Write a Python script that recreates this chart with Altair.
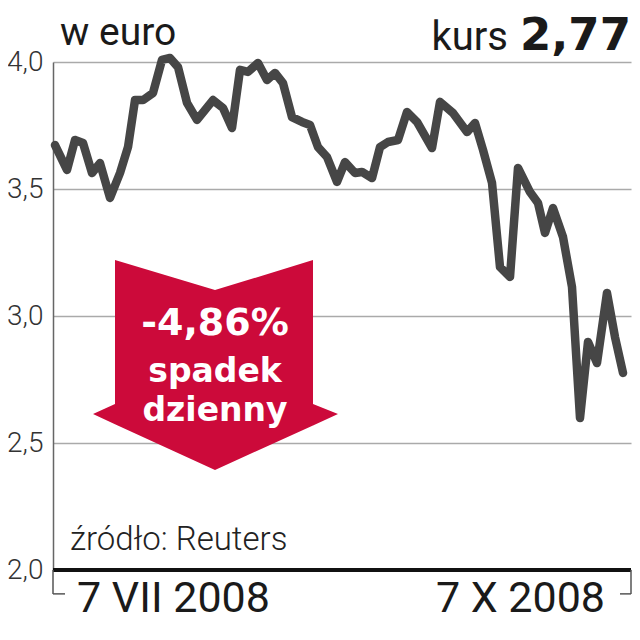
import altair as alt
import pandas as pd

# ---- data ----
x_pos = [2, 14, 22, 30, 39, 47, 57, 67, 75, 82, 90, 100, 109, 117, 125, 134, 144, 160,
         170, 179, 187, 195, 205, 214, 222, 230, 239, 249, 257, 265, 274, 284, 292, 302,
         309, 319, 327, 335, 345, 354, 364, 379, 387, 400, 414, 422, 430, 439, 447, 457,
         465, 477, 485, 492, 500, 510, 519, 527, 535, 544, 554, 562, 570]
kurs = [3.673, 3.575, 3.693, 3.681, 3.563, 3.602, 3.465, 3.563, 3.665, 3.850, 3.850, 3.878,
        4.008, 4.016, 3.980, 3.839, 3.772, 3.850, 3.819, 3.740, 3.969, 3.961, 3.996, 3.929,
        3.957, 3.917, 3.783, 3.764, 3.752, 3.665, 3.626, 3.528, 3.606, 3.563, 3.567, 3.543,
        3.665, 3.685, 3.693, 3.803, 3.764, 3.661, 3.843, 3.799, 3.724, 3.760, 3.654, 3.524,
        3.193, 3.154, 3.583, 3.488, 3.445, 3.327, 3.425, 3.311, 3.114, 2.598, 2.898, 2.815,
        3.091, 2.917, 2.776]

y_ticks = [2.0, 2.5, 3.0, 3.5, 4.0]
x_domain = [0, 578]
y_domain = [2.0, 4.0]

# red arrow outline (x position, upper edge, lower edge)
arrow_x = [40, 62, 62.01, 162, 259.99, 260, 285]
arrow_top = [2.614, 2.654, 3.220, 3.102, 3.220, 2.654, 2.614]
arrow_bottom = [2.614, 2.574, 2.574, 2.394, 2.569, 2.569, 2.614]

arrow_text = ["-4,86%", "spadek", "dzienny"]
arrow_text_size = [38, 33, 33]
arrow_text_y = [2.925, 2.742, 2.585]

# bracket under the axis
bracket_x = [0, 0, 578, 567]
bracket_x2 = [0, 12, 578, 578]
bracket_y = [2.0, 1.906, 2.0, 1.906]
bracket_y2 = [1.906, 1.906, 1.906, 1.906]

LINE = "#464646"
RED = "#cc0a3a"

xs = alt.Scale(domain=x_domain, nice=False, zero=False)
ys = alt.Scale(domain=y_domain, nice=False, zero=False)

df = pd.DataFrame({"x": x_pos, "v": kurs})
line = alt.Chart(df).mark_line(
    color=LINE, strokeWidth=8.5, strokeJoin="round", strokeCap="round", clip=False
).encode(
    x=alt.X("x:Q", scale=xs, axis=None),
    y=alt.Y("v:Q", scale=ys, axis=alt.Axis(
        values=y_ticks, labelExpr="replace(format(datum.value, '.1f'), '.', ',')",
        grid=True, gridColor="#aaaaaa", gridWidth=1.5,
        domainColor="#666666", domainWidth=1.5, ticks=False, labelPadding=10,
        labelFont="Roboto", labelFontWeight=300, labelFontSize=28, labelColor="#333333",
        title=None, labelOverlap=False)),
)

base_df = pd.DataFrame({"x": [x_domain[0]], "x2": [x_domain[1]], "y": [y_domain[0]]})
baseline = alt.Chart(base_df).mark_rule(color="#111111", strokeWidth=4).encode(
    x=alt.X("x:Q", scale=xs), x2="x2:Q", y=alt.Y("y:Q", scale=ys)
)

br_df = pd.DataFrame({"x": bracket_x, "x2": bracket_x2, "y": bracket_y, "y2": bracket_y2})
brackets = alt.Chart(br_df).mark_rule(color="#555555", strokeWidth=1.5).encode(
    x=alt.X("x:Q", scale=xs), x2="x2:Q", y=alt.Y("y:Q", scale=ys), y2="y2:Q"
)

ar_df = pd.DataFrame({"x": arrow_x, "top": arrow_top, "bottom": arrow_bottom})
arrow = alt.Chart(ar_df).mark_area(color=RED, opacity=1).encode(
    x=alt.X("x:Q", scale=xs), y=alt.Y("top:Q", scale=ys), y2="bottom:Q"
)

at_df = pd.DataFrame({"t": arrow_text, "s": arrow_text_size, "y": arrow_text_y,
                      "x": [162] * 3})
arrow_txt = alt.Chart(at_df).mark_text(
    font="DejaVu Sans", fontWeight="bold", color="white", align="center",
    baseline="alphabetic"
).encode(
    x=alt.X("x:Q", scale=xs), y=alt.Y("y:Q", scale=ys), text="t:N",
    size=alt.Size("s:Q", scale=None, legend=None)
)

def label(text, x, y, size, weight="normal", align="left", font="Roboto", color="#1a1a1a"):
    return alt.Chart(pd.DataFrame({"a": [0]})).mark_text(
        text=text, font=font, fontSize=size, fontWeight=weight, align=align,
        baseline="alphabetic", color=color
    ).encode(x=alt.value(x), y=alt.value(y))

t_unit = label("w euro", 7, -17, 39)
t_kurs = label("kurs", 455, -12, 40, align="right")
t_val = label("2,77", 578, -12, 45, weight="bold", align="right", font="DejaVu Sans")
t_src = label("źródło: Reuters", 17, 488, 33, weight=300, color="#222222")
t_d1 = label("7 VII 2008", 24, 550, 43)
t_d2 = label("7 X 2008", 552, 550, 43, align="right")

chart = alt.layer(
    line, arrow, arrow_txt, baseline, brackets,
    t_unit, t_kurs, t_val, t_src, t_d1, t_d2
).properties(
    width=578, height=508,
    padding={"left": 45, "top": 54, "right": 1, "bottom": 54},
    autosize=alt.AutoSizeParams(type="none"),
).configure_view(stroke=None)

chart.save("out.html", embed_options={"renderer": "svg", "actions": False})
